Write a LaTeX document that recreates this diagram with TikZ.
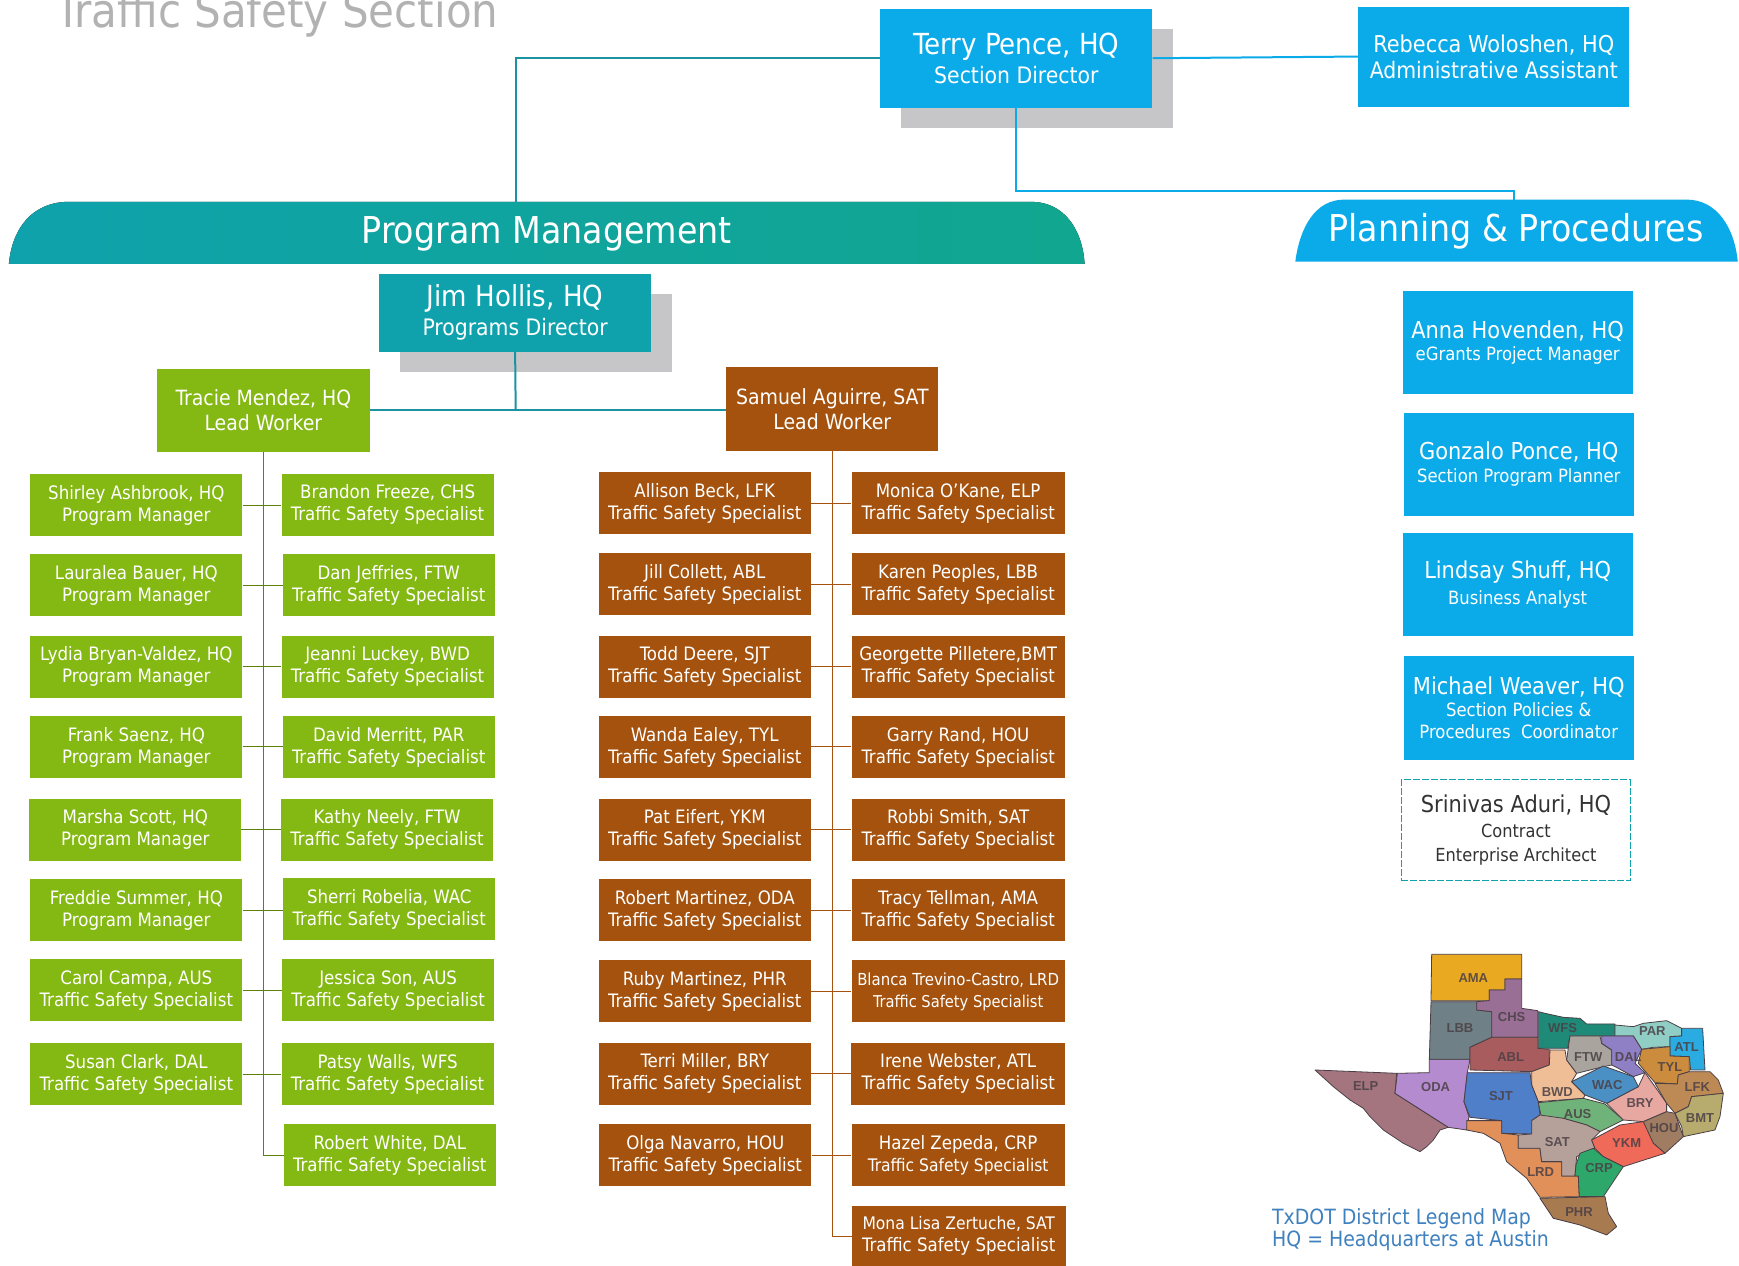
\documentclass[tikz,border=0pt]{standalone}
\usepackage{fontspec}
\setmainfont{DejaVu Sans Condensed}
\newfontfamily\mapfont{Liberation Sans}
\definecolor{tealc}{HTML}{0FA2AC}
\definecolor{tealr}{HTML}{10A68F}
\definecolor{tealline}{HTML}{1B93A0}
\definecolor{bluec}{HTML}{0BAAE8}
\definecolor{greenc}{HTML}{84B812}
\definecolor{brownc}{HTML}{A4520E}
\definecolor{shadowc}{HTML}{C6C6C8}
\definecolor{mapline}{HTML}{4A3F45}
\definecolor{legendc}{HTML}{3F80BE}
\newcommand{\bigname}[2]{{\fontsize{29}{32}\selectfont #1}\\[5pt]{\fontsize{22.7}{26}\selectfont #2}}
\newcommand{\medname}[2]{{\fontsize{23.3}{28}\selectfont #1}\\[4.5pt]{\fontsize{18.3}{22}\selectfont #2}}
\tikzset{
  base/.style={inner sep=0pt,align=center,text=white},
  bigbox/.style={base,fill=#1,minimum width=272pt,minimum height=99pt},
  shadowbox/.style={fill=shadowc,minimum width=272pt,minimum height=99pt,inner sep=0pt},
  leadbox/.style={base,fill=#1,minimum width=213pt,minimum height=83pt,font=\fontsize{21}{25}\selectfont},
  smallbox/.style={base,fill=#1,minimum width=212pt,minimum height=62pt,font=\fontsize{18.5}{22}\selectfont},
  sidebox/.style={base,fill=bluec,minimum width=230pt,minimum height=103pt},
  bannertext/.style={text=white,font=\fontsize{37}{40}\selectfont,inner sep=0pt},
  link/.style={line width=2pt,draw=#1},
  spine/.style={line width=0.9pt,draw=#1},
  district/.style={fill={#1},draw=mapline,line width=0.8pt,line join=round},
  distlabel/.style={font=\mapfont\bfseries\fontsize{13}{13}\selectfont,text=mapline,inner sep=0pt,opacity=0.85},
}
\begin{document}
\begin{tikzpicture}[x=1.109pt,y=-1.109pt]
\useasboundingbox (0,0) rectangle (1568.1,1140.7);
\fill[white] (0,0) rectangle (1568.1,1140.7);

% title
\node[anchor=base west,inner sep=0pt,text=black!30,font=\fontsize{46.7}{48}\selectfont] (title) at (50,25) {Traffic Safety Section};

% banners
\fill[left color=tealc,right color=tealr] (8,238) .. controls (11,205) and (30,182) .. (62,182) -- (930,182) .. controls (958,182) and (976,205) .. (978,238) -- cycle;
\fill[bluec] (1168,236) .. controls (1172,205) and (1186,180) .. (1212,180) -- (1521,180) .. controls (1548,180) and (1564,205) .. (1567,236) -- cycle;
\node[bannertext] (pm) at (493,210.5) {Program Management};
\node[bannertext] (pp) at (1367,208.5) {Planning \& Procedures};
\coordinate (pmtop) at (465.5,182);
\coordinate (pptop) at (1365,180);

% shadows
\node[shadowbox] (terryshadow) at (935.5,70.5) {};
\node[shadowbox,minimum height=78pt] (jimshadow) at (483.5,300) {};

% top connectors
\node[bigbox=bluec] (terry) at (916.5,52.5) {\bigname{Terry Pence, HQ}{Section Director}};
\node[base,fill=bluec,minimum width=271pt,minimum height=100pt] (rebecca) at (1347,51) {{\fontsize{23.2}{27}\selectfont Rebecca Woloshen, HQ}\\[4.5pt]{\fontsize{22.7}{27}\selectfont Administrative Assistant}};
\draw[link=tealline] (terry.west) -| (pmtop);
\draw[link=bluec] (terry.east) -- (rebecca.west);
\draw[link=bluec] (terry.south) |- (1365,172) -- (pptop);

% programs
\node[base,fill=tealc,minimum width=272pt,minimum height=78pt] (jim) at (464.5,282) {\bigname{Jim Hollis, HQ}{Programs Director}};
\node[leadbox=greenc] (tracie) at (237.5,370) {Tracie Mendez, HQ\\Lead Worker};
\node[leadbox=brownc,minimum width=212pt,minimum height=84pt] (samuel) at (750.5,369) {Samuel Aguirre, SAT\\Lead Worker};
\coordinate (junction) at (465,369.5);
\draw[link=tealline] (jim.south) -- (junction);
\draw[link=tealline] (tracie.east |- junction) -- (samuel.west |- junction);

% green boxes
\node[smallbox=greenc] (g1l) at (123,455.5) {Shirley Ashbrook, HQ\\Program Manager};
\node[smallbox=greenc] (g1r) at (349.5,455) {Brandon Freeze, CHS\\Traffic Safety Specialist};
\node[smallbox=greenc] (g2l) at (123,527.5) {Lauralea Bauer, HQ\\Program Manager};
\node[smallbox=greenc] (g2r) at (350.5,527.5) {Dan Jeffries, FTW\\Traffic Safety Specialist};
\node[smallbox=greenc] (g3l) at (123,601) {Lydia Bryan-Valdez, HQ\\Program Manager};
\node[smallbox=greenc] (g3r) at (349.5,601) {Jeanni Luckey, BWD\\Traffic Safety Specialist};
\node[smallbox=greenc] (g4l) at (123,673.5) {Frank Saenz, HQ\\Program Manager};
\node[smallbox=greenc] (g4r) at (350.5,673.5) {David Merritt, PAR\\Traffic Safety Specialist};
\node[smallbox=greenc] (g5l) at (122,748) {Marsha Scott, HQ\\Program Manager};
\node[smallbox=greenc] (g5r) at (349,748) {Kathy Neely, FTW\\Traffic Safety Specialist};
\node[smallbox=greenc] (g6l) at (123,821) {Freddie Summer, HQ\\Program Manager};
\node[smallbox=greenc] (g6r) at (351,820) {Sherri Robelia, WAC\\Traffic Safety Specialist};
\node[smallbox=greenc] (g7l) at (123,893) {Carol Campa, AUS\\Traffic Safety Specialist};
\node[smallbox=greenc] (g7r) at (350,893) {Jessica Son, AUS\\Traffic Safety Specialist};
\node[smallbox=greenc] (g8l) at (123,968.5) {Susan Clark, DAL\\Traffic Safety Specialist};
\node[smallbox=greenc] (g8r) at (349.5,968.5) {Patsy Walls, WFS\\Traffic Safety Specialist};
\node[smallbox=greenc] (g9r) at (351.5,1041.5) {Robert White, DAL\\Traffic Safety Specialist};
\draw[spine=greenc!70!black] (tracie.south) |- (g9r.west);
\foreach \n in {1,...,8}{\draw[spine=greenc!70!black] (g\n l.east) -- (g\n l.east -| g\n r.west);}

% brown boxes
\node[smallbox=brownc] (b1l) at (635.5,454) {Allison Beck, LFK\\Traffic Safety Specialist};
\node[smallbox=brownc,minimum width=213pt] (b1r) at (864,454) {Monica O'Kane, ELP\\Traffic Safety Specialist};
\node[smallbox=brownc] (b2l) at (635.5,527) {Jill Collett, ABL\\Traffic Safety Specialist};
\node[smallbox=brownc,minimum width=213pt] (b2r) at (864,527) {Karen Peoples, LBB\\Traffic Safety Specialist};
\node[smallbox=brownc] (b3l) at (635.5,601) {Todd Deere, SJT\\Traffic Safety Specialist};
\node[smallbox=brownc,minimum width=213pt] (b3r) at (864,601) {Georgette Pilletere,BMT\\Traffic Safety Specialist};
\node[smallbox=brownc] (b4l) at (635.5,673.5) {Wanda Ealey, TYL\\Traffic Safety Specialist};
\node[smallbox=brownc,minimum width=213pt] (b4r) at (864,673.5) {Garry Rand, HOU\\Traffic Safety Specialist};
\node[smallbox=brownc] (b5l) at (635.5,748) {Pat Eifert, YKM\\Traffic Safety Specialist};
\node[smallbox=brownc,minimum width=213pt] (b5r) at (864,748) {Robbi Smith, SAT\\Traffic Safety Specialist};
\node[smallbox=brownc] (b6l) at (635.5,821) {Robert Martinez, ODA\\Traffic Safety Specialist};
\node[smallbox=brownc,minimum width=213pt] (b6r) at (864,821) {Tracy Tellman, AMA\\Traffic Safety Specialist};
\node[smallbox=brownc] (b7l) at (635.5,894) {Ruby Martinez, PHR\\Traffic Safety Specialist};
\node[smallbox=brownc,minimum width=213pt] (b7r) at (864,894) {{\fontsize{16.6}{20}\selectfont Blanca Trevino-Castro, LRD}\\{\fontsize{16.3}{20}\selectfont Traffic Safety Specialist}};
\node[smallbox=brownc] (b8l) at (635.5,968) {Terri Miller, BRY\\Traffic Safety Specialist};
\node[smallbox=brownc,minimum width=214pt] (b8r) at (864,968) {Irene Webster, ATL\\Traffic Safety Specialist};
\node[smallbox=brownc] (b9l) at (636,1041.5) {Olga Navarro, HOU\\Traffic Safety Specialist};
\node[smallbox=brownc,minimum width=213pt] (b9r) at (864,1041.5) {Hazel Zepeda, CRP\\{\fontsize{17.3}{21}\selectfont Traffic Safety Specialist}};
\node[smallbox=brownc,minimum width=214pt,minimum height=60pt] (b10r) at (864.5,1114.5) {{\fontsize{17.3}{21}\selectfont Mona Lisa Zertuche, SAT}\\Traffic Safety Specialist};
\draw[spine=brownc] (samuel.south) |- (b10r.west);
\foreach \n in {1,...,9}{\draw[spine=brownc] (b\n l.east) -- (b\n l.east -| b\n r.west);}

% planning column
\node[sidebox] (anna) at (1368.5,309) {\medname{Anna Hovenden, HQ}{eGrants Project Manager}};
\node[sidebox] (gonzalo) at (1369.5,418.5) {\medname{Gonzalo Ponce, HQ}{Section Program Planner}};
\node[sidebox] (lindsay) at (1368.5,527) {{\fontsize{23.3}{28}\selectfont Lindsay Shuff, HQ}\\[6pt]{\fontsize{18.3}{22}\selectfont Business Analyst}};
\node[sidebox,minimum height=104pt] (michael) at (1369.5,638) {{\fontsize{23.3}{27}\selectfont Michael Weaver, HQ}\\[4pt]{\fontsize{18.3}{22}\selectfont Section Policies \&}\\[7pt]{\fontsize{18.3}{22}\selectfont Procedures\ \ Coordinator}};
\node[base,text=black!80,draw=tealc,dash pattern=on 7pt off 2pt,line width=1pt,minimum width=229pt,minimum height=101pt] (srinivas) at (1367,748.5) {{\fontsize{23.3}{28}\selectfont Srinivas Aduri, HQ}\\[7pt]{\fontsize{18}{25}\selectfont Contract}\\[9.5pt]{\fontsize{18}{25}\selectfont Enterprise Architect}};

% map
\begin{scope}[shift={(1145.2,838.6)},x=0.3333pt,y=-0.3333pt]
\definecolor{cAMA}{HTML}{E9A920}\definecolor{cCHS}{HTML}{9A6F96}\definecolor{cLBB}{HTML}{6F8186}
\definecolor{cABL}{HTML}{A85C5E}\definecolor{cWFS}{HTML}{1F8A78}\definecolor{cPAR}{HTML}{8FCDC5}
\definecolor{cATL}{HTML}{2AABE2}\definecolor{cTYL}{HTML}{CB8C3E}\definecolor{cFTW}{HTML}{A9A59E}
\definecolor{cDAL}{HTML}{8F80C6}\definecolor{cWAC}{HTML}{4A90C4}\definecolor{cBWD}{HTML}{F0BE96}
\definecolor{cSJT}{HTML}{4F7FC9}\definecolor{cODA}{HTML}{B58BD0}\definecolor{cELP}{HTML}{A4757F}
\definecolor{cAUS}{HTML}{6FB37A}\definecolor{cBRY}{HTML}{E8A8A2}\definecolor{cLFK}{HTML}{BD8A55}
\definecolor{cBMT}{HTML}{B7AB6E}\definecolor{cHOU}{HTML}{A07D62}\definecolor{cYKM}{HTML}{EF6A58}
\definecolor{cSAT}{HTML}{B5A199}\definecolor{cLRD}{HTML}{E09058}\definecolor{cCRP}{HTML}{2EA86A}
\definecolor{cPHR}{HTML}{A87A50}
\draw[district=cELP] (135,420) -- (380,430) -- (375,490) -- (535,592) -- (510,600) -- (490,630) -- (470,650) -- (450,665) -- (400,640) -- (340,600) -- (300,560) -- (280,535) -- (240,510) -- (190,470) -- cycle;
\draw[district=cODA] (382,430) -- (478,428) -- (478,388) -- (600,388) -- (592,428) -- (582,515) -- (597,560) -- (590,600) -- (535,592) -- (375,490) -- cycle;
\draw[district=cLRD] (590,572) -- (695,572) -- (695,610) -- (745,615) -- (745,655) -- (810,655) -- (815,695) -- (875,695) -- (875,738) -- (925,738) -- (928,800) -- (810,802) -- (770,745) -- (710,695) -- (690,640) -- (640,610) -- (590,600) -- cycle;
\draw[district=cAMA] (485,73) -- (755,73) -- (755,147) -- (705,147) -- (705,180) -- (658,180) -- (658,212) -- (483,212) -- cycle;
\draw[district=cLBB] (483,215) -- (620,215) -- (620,240) -- (665,245) -- (665,322) -- (600,352) -- (600,388) -- (478,388) -- cycle;
\draw[district=cCHS] (620,215) -- (658,212) -- (658,180) -- (705,180) -- (705,147) -- (755,147) -- (755,235) -- (803,242) -- (803,322) -- (665,322) -- (665,245) -- (620,240) -- cycle;
\draw[district=cABL] (665,322) -- (803,322) -- (803,355) -- (838,358) -- (838,405) -- (785,425) -- (600,420) -- (600,352) -- cycle;
\draw[district=cWFS] (805,245) -- (825,250) -- (880,262) -- (930,265) -- (950,282) -- (1035,282) -- (1035,318) -- (900,318) -- (893,355) -- (805,355) -- cycle;
\draw[district=cPAR] (1035,285) -- (1090,290) -- (1120,280) -- (1190,272) -- (1235,295) -- (1235,318) -- (1200,320) -- (1200,350) -- (1150,352) -- (1115,358) -- (1090,318) -- (1035,318) -- cycle;
\draw[district=cATL] (1235,295) -- (1298,295) -- (1305,420) -- (1262,420) -- (1258,380) -- (1200,378) -- (1200,320) -- (1235,318) -- cycle;
\draw[district=cTYL] (1115,358) -- (1200,350) -- (1200,378) -- (1258,380) -- (1258,425) -- (1225,435) -- (1222,462) -- (1155,458) -- (1105,400) -- cycle;
\draw[district=cBWD] (840,360) -- (885,360) -- (890,390) -- (920,430) -- (905,455) -- (945,495) -- (940,505) -- (805,515) -- (785,465) -- (785,425) -- (838,405) -- cycle;
\draw[district=cFTW] (900,318) -- (990,318) -- (995,340) -- (1025,360) -- (1025,405) -- (1000,410) -- (920,430) -- (890,390) -- cycle;
\draw[district=cDAL] (995,318) -- (1090,318) -- (1115,358) -- (1095,400) -- (1125,428) -- (1090,440) -- (1045,415) -- (1025,405) -- (1025,360) -- (995,340) -- cycle;
\draw[district=cSJT] (592,428) -- (780,428) -- (785,465) -- (805,515) -- (810,555) -- (785,572) -- (785,612) -- (695,610) -- (695,572) -- (600,562) -- (582,515) -- cycle;
\draw[district=cAUS] (805,518) -- (940,505) -- (1005,522) -- (1060,570) -- (990,605) -- (950,585) -- (880,565) -- (815,565) -- cycle;
\draw[district=cBRY] (1010,520) -- (1105,470) -- (1125,428) -- (1155,470) -- (1190,520) -- (1190,545) -- (1120,575) -- (1060,570) -- cycle;
\draw[district=cWAC] (905,455) -- (1000,408) -- (1090,440) -- (1105,470) -- (1010,520) -- (945,495) -- cycle;
\draw[district=cLFK] (1155,460) -- (1222,462) -- (1225,435) -- (1258,425) -- (1320,425) -- (1345,450) -- (1360,490) -- (1265,500) -- (1255,530) -- (1215,550) -- (1190,520) -- cycle;
\draw[district=cBMT] (1265,500) -- (1360,490) -- (1350,560) -- (1335,600) -- (1240,620) -- (1235,590) -- (1215,550) -- (1255,530) -- cycle;
\draw[district=cHOU] (1120,575) -- (1190,545) -- (1215,550) -- (1240,620) -- (1185,670) -- (1150,640) -- (1125,590) -- cycle;
\draw[district=cSAT] (785,572) -- (810,555) -- (880,565) -- (950,585) -- (990,605) -- (965,630) -- (975,655) -- (920,680) -- (915,738) -- (875,738) -- (875,695) -- (815,695) -- (810,655) -- (745,655) -- (745,615) -- (785,612) -- cycle;
\draw[district=cYKM] (965,630) -- (1050,585) -- (1120,575) -- (1150,640) -- (1185,670) -- (1060,710) -- (1000,680) -- (975,655) -- cycle;
\draw[district=cCRP] (918,705) -- (930,670) -- (970,655) -- (1000,680) -- (1060,710) -- (1020,770) -- (1000,800) -- (928,800) -- (925,738) -- (915,738) -- cycle;
\draw[district=cPHR] (810,805) -- (1005,800) -- (1015,850) -- (1040,890) -- (1010,915) -- (930,885) -- (850,865) -- cycle;
\foreach \nm/\xx/\yy in {AMA/610/143,CHS/725/260,LBB/570/295,ABL/722/382,WFS/878/295,PAR/1147/303,ATL/1250/350,FTW/955/380,DAL/1075/380,TYL/1200/410,WAC/1012/465,LFK/1282/470,ELP/287/468,ODA/497/472,SJT/693/497,BWD/862/487,BRY/1110/520,AUS/923/552,BMT/1290/563,HOU/1182/595,SAT/862/635,YKM/1070/638,LRD/812/725,CRP/987/715,PHR/927/845}{
  \node[distlabel] (map\nm) at (\xx,\yy) {\nm};
}
\end{scope}
\node[anchor=north west,inner sep=0pt,align=left,text=legendc,font=\fontsize{21}{22.5}\selectfont] (legend) at (1147,1089.5) {TxDOT District Legend Map\\HQ = Headquarters at Austin};
\end{tikzpicture}
\end{document}
